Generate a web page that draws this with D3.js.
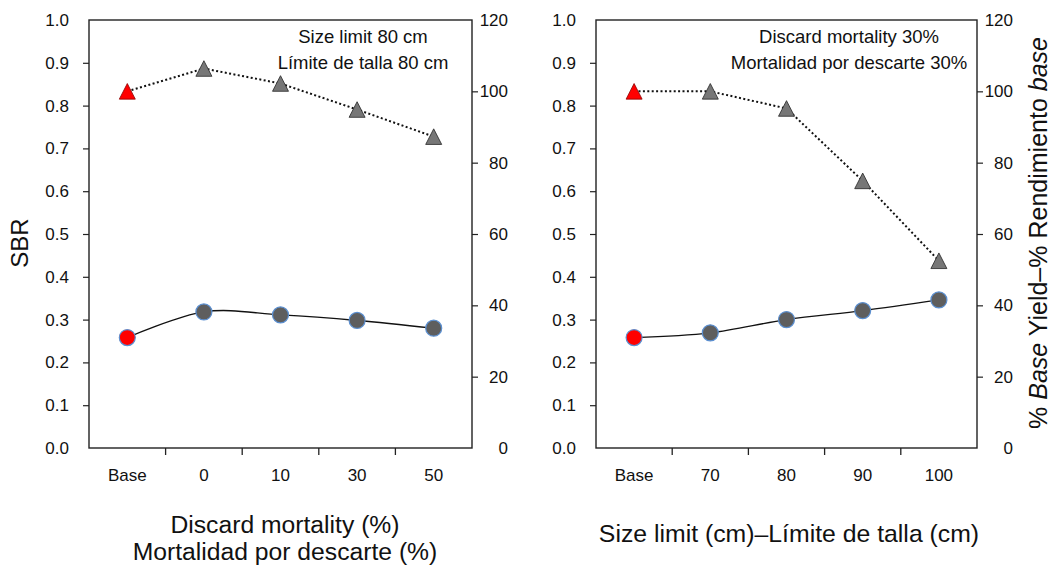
<!DOCTYPE html>
<html>
<head>
<meta charset="utf-8">
<script src="https://cdn.jsdelivr.net/npm/d3@7"></script>
<style>
  body { margin: 0; background: #fff; }
  svg { display: block; font-family: "Liberation Sans", Arial, sans-serif; }
</style>
</head>
<body>
<svg id="chart" width="1055" height="565"></svg>
<script>
// values
const mortCats = ["Base", "0", "10", "30", "50"];
const mortSBR = [0.258, 0.318, 0.311, 0.298, 0.280];
const mortYield = [100, 106.4, 102.2, 94.9, 87.3];

const sizeCats = ["Base", "70", "80", "90", "100"];
const sizeSBR = [0.258, 0.269, 0.300, 0.321, 0.346];
const sizeYield = [100, 100, 95.2, 74.9, 52.5];

const sbrTicks = [0, 0.1, 0.2, 0.3, 0.4, 0.5, 0.6, 0.7, 0.8, 0.9, 1.0];
const yieldTicks = [0, 20, 40, 60, 80, 100, 120];

const svg = d3.select("#chart");

// plot area shared by both panels
const plotTop = 20, plotBottom = 448;
const y = d3.scaleLinear().domain([0, 1]).range([plotBottom, plotTop]);
const y2 = d3.scaleLinear().domain([0, 120]).range([plotBottom, plotTop]);

const triangle = "M0,-7.8L8,7.8L-8,7.8Z";
const smooth = d3.curveCardinal.tension(0);

function drawPanel(cfg) {
  const g = svg.append("g");
  const x = d3.scaleBand().domain(cfg.cats).range([cfg.left, cfg.right]);
  const cx = d => x(d) + x.bandwidth() / 2;

  // left axis (SBR)
  g.append("g")
    .attr("transform", `translate(${cfg.left},0)`)
    .call(d3.axisLeft(y).tickValues(sbrTicks).tickFormat(d3.format(".1f"))
      .tickSize(6).tickPadding(14))
    .call(a => a.select(".domain").remove())
    .call(a => a.selectAll(".tick").filter(d => d === 0 || d === 1).select("line").remove())
    .call(a => a.selectAll("text").attr("font-size", 17).attr("fill", "#111")
      .attr("font-family", "Liberation Sans, Arial, sans-serif"))
    .call(a => a.selectAll("line").attr("stroke", "#222").attr("stroke-width", 1.2));

  // right axis (% base yield)
  g.append("g")
    .attr("transform", `translate(${cfg.right},0)`)
    .call(d3.axisRight(y2).tickValues(yieldTicks).tickSize(6))
    .call(a => a.select(".domain").remove())
    .call(a => a.selectAll(".tick").filter(d => d === 0 || d === 120).select("line").remove())
    .call(a => a.selectAll("text").attr("font-size", 17).attr("fill", "#111")
      .attr("text-anchor", "end").attr("x", 36)
      .attr("font-family", "Liberation Sans, Arial, sans-serif"))
    .call(a => a.selectAll("line").attr("stroke", "#222").attr("stroke-width", 1.2));

  // category labels
  g.append("g")
    .attr("transform", `translate(0,${plotBottom})`)
    .call(d3.axisBottom(x).tickSize(0).tickPadding(21))
    .call(a => a.select(".domain").remove())
    .call(a => a.selectAll("text").attr("font-size", 17).attr("fill", "#111")
      .attr("font-family", "Liberation Sans, Arial, sans-serif"));

  // separators between categories
  g.selectAll(".sep")
    .data(cfg.cats.slice(1))
    .join("line")
    .attr("x1", d => x(d)).attr("x2", d => x(d))
    .attr("y1", plotBottom).attr("y2", plotBottom + 7)
    .attr("stroke", "#222").attr("stroke-width", 1.3);

  // frame
  g.append("rect")
    .attr("x", cfg.left).attr("y", plotTop)
    .attr("width", cfg.right - cfg.left).attr("height", plotBottom - plotTop)
    .attr("fill", "none").attr("stroke", "#222").attr("stroke-width", 1.4);

  // yield (triangles, dotted)
  const yieldPts = cfg.cats.map((c, i) => [cx(c), y2(cfg.yield[i])]);
  g.append("path")
    .attr("d", d3.line()(yieldPts))
    .attr("fill", "none").attr("stroke", "#111")
    .attr("stroke-width", 2).attr("stroke-dasharray", "2,2.4");

  // SBR (circles, solid)
  const sbrPts = cfg.cats.map((c, i) => [cx(c), y(cfg.sbr[i])]);
  g.append("path")
    .attr("d", d3.line().curve(smooth)(sbrPts))
    .attr("fill", "none").attr("stroke", "#111").attr("stroke-width", 1.4);

  g.selectAll(".tri")
    .data(yieldPts)
    .join("path")
    .attr("d", triangle)
    .attr("transform", d => `translate(${d[0]},${d[1]})`)
    .attr("fill", (d, i) => i === 0 ? "#ff0000" : "#777777")
    .attr("stroke", (d, i) => i === 0 ? "#8b0000" : "#262626")
    .attr("stroke-width", 0.8);

  g.selectAll(".dot")
    .data(sbrPts)
    .join("circle")
    .attr("cx", d => d[0]).attr("cy", d => d[1]).attr("r", 8)
    .attr("fill", (d, i) => i === 0 ? "#ff0000" : "#5e5e5e")
    .attr("stroke", "#5b8fd0").attr("stroke-width", 1.2);

  // note in top right corner
  const note = g.append("text")
    .attr("text-anchor", "middle").attr("font-size", 18.5).attr("fill", "#111");
  cfg.note.forEach((t, i) => {
    note.append("tspan").attr("x", cfg.noteX).attr("y", 43 + i * 26).text(t);
  });

  // x title
  const xt = g.append("text")
    .attr("text-anchor", "middle").attr("font-size", cfg.titleSize).attr("fill", "#111");
  cfg.xTitle.forEach((t, i) => {
    xt.append("tspan").attr("x", cfg.titleX).attr("y", cfg.titleY + i * 27).text(t);
  });
}

drawPanel({
  cats: mortCats, sbr: mortSBR, yield: mortYield,
  left: 89, right: 472,
  note: ["Size limit 80 cm", "Límite de talla 80 cm"], noteX: 363,
  xTitle: ["Discard mortality (%)", "Mortalidad por descarte (%)"],
  titleX: 285, titleY: 533, titleSize: 24.7
});

drawPanel({
  cats: sizeCats, sbr: sizeSBR, yield: sizeYield,
  left: 596, right: 977,
  note: ["Discard mortality 30%", "Mortalidad por descarte 30%"], noteX: 849,
  xTitle: ["Size limit (cm)–Límite de talla (cm)"],
  titleX: 789, titleY: 542, titleSize: 24.8
});

// y titles
svg.append("text")
  .attr("transform", "translate(28,243) rotate(-90)")
  .attr("text-anchor", "middle").attr("font-size", 24).attr("fill", "#111")
  .text("SBR");

const yr = svg.append("text")
  .attr("transform", "translate(1047,233) rotate(-90)")
  .attr("text-anchor", "middle").attr("font-size", 25).attr("fill", "#111");
yr.append("tspan").text("% ");
yr.append("tspan").attr("font-style", "italic").text("Base");
yr.append("tspan").text(" Yield–% Rendimiento ");
yr.append("tspan").attr("font-style", "italic").text("base");
</script>
</body>
</html>
